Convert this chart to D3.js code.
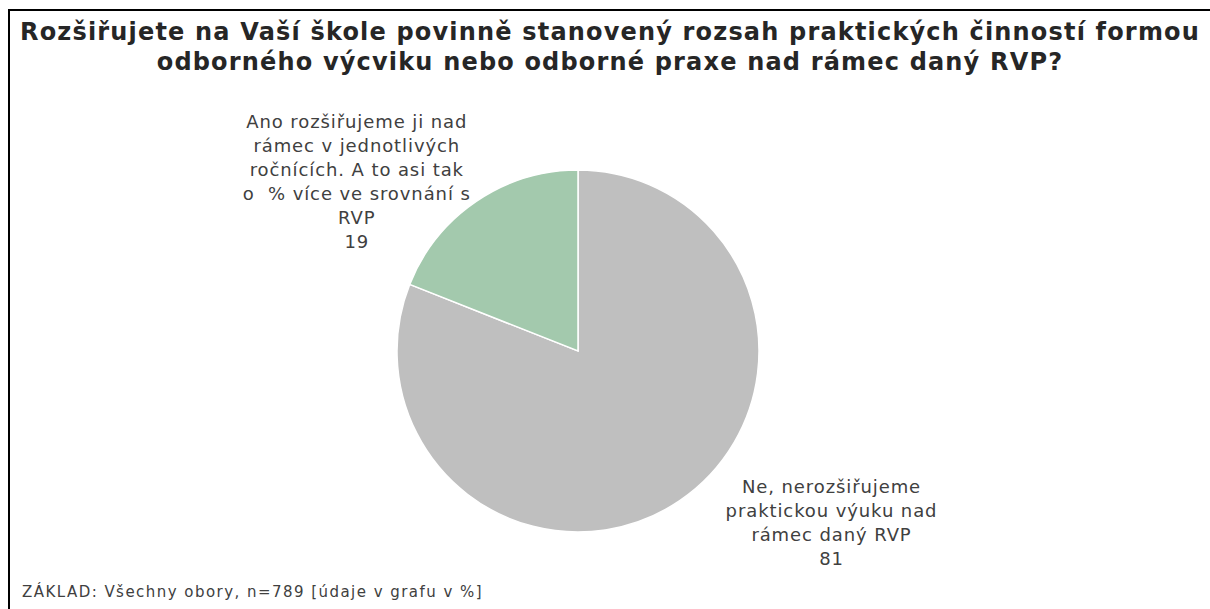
<!DOCTYPE html>
<html>
<head>
<meta charset="utf-8">
<script src="https://cdnjs.cloudflare.com/ajax/libs/d3/7.8.5/d3.min.js"></script>
<style>
  body { margin: 0; background: #fff; }
  svg { display: block; }
  .title { font-family: "DejaVu Sans", Verdana, sans-serif; font-weight: bold; font-size: 24px; fill: #262626; }
  .label { font-family: "DejaVu Sans", Verdana, sans-serif; font-size: 18px; fill: #404040; white-space: pre; }
  .note { font-family: "DejaVu Sans", Verdana, sans-serif; font-size: 15px; fill: #404040; }
</style>
</head>
<body>
<svg id="chart" width="1210" height="609"></svg>
<script>
const titleLines = [
  'Rozšiřujete na Vaší škole povinně stanovený rozsah praktických činností formou',
  'odborného výcviku nebo odborné praxe nad rámec daný RVP?'
];
const categories = [
  'Ne, nerozšiřujeme praktickou výuku nad rámec daný RVP',
  'Ano rozšiřujeme ji nad rámec v jednotlivých ročnících. A to asi tak o  % více ve srovnání s RVP'
];
// label text broken into lines the way the chart shows them
const labelLines = [
  ['Ne, nerozšiřujeme', 'praktickou výuku nad', 'rámec daný RVP'],
  ['Ano rozšiřujeme ji nad', 'rámec v jednotlivých', 'ročnících. A to asi tak', 'o  % více ve srovnání s', 'RVP']
];
const values = [81, 19];
const colors = ['#bfbfbf', '#a3c9ad'];
const note = 'ZÁKLAD: Všechny obory, n=789 [údaje v grafu v %]';

const width = 1210, height = 609;
const cx = 578, cy = 351, radius = 181;
const lineHeight = 24;
// label placement relative to slice middle: radius factor, angle shift (rad)
const labelPlace = [
  {k: 1.69, shift: -0.38},
  {k: 1.54, shift: -0.32}
];

const svg = d3.select('#chart');

// Verdana runs wider than DejaVu, so stretch letter spacing to the
// width a reference line takes in the original
const fitSpacing = (sel, sample, target) => {
  const probe = svg.append('text').attr('class', sel).text(sample);
  const w = probe.node().getComputedTextLength();
  probe.remove();
  return (target - w) / sample.length;
};
const titleSpacing = fitSpacing('title', titleLines[0], 1180);
const labelSpacing = fitSpacing('label', labelLines[1][0], 221);
const noteSpacing = fitSpacing('note', note, 461);

// outer frame (runs past right and bottom edge)
svg.append('rect')
  .attr('x', 9)
  .attr('y', 10)
  .attr('width', width)
  .attr('height', height)
  .attr('fill', 'none')
  .attr('stroke', '#000')
  .attr('stroke-width', 2);

svg.append('text')
  .attr('class', 'title')
  .attr('text-anchor', 'middle')
  .style('letter-spacing', titleSpacing + 'px')
  .selectAll('tspan')
  .data(titleLines)
  .join('tspan')
    .attr('x', 610)
    .attr('y', (d, i) => 40 + i * 30)
    .text(d => d);

const pie = d3.pie().sort(null).value(d => d.value);
const arc = d3.arc().innerRadius(0).outerRadius(radius);
const slices = pie(values.map((v, i) => ({value: v, i: i})));

const g = svg.append('g')
  .attr('transform', `translate(${cx},${cy})`);

g.selectAll('path')
  .data(slices)
  .join('path')
    .attr('d', arc)
    .attr('fill', d => colors[d.data.i])
    .attr('stroke', '#fff')
    .attr('stroke-width', 1.5);

const labels = g.selectAll('text.label')
  .data(slices)
  .join('text')
    .attr('class', 'label')
    .attr('text-anchor', 'middle')
    .attr('dominant-baseline', 'central')
    .style('letter-spacing', labelSpacing + 'px');

labels.each(function(d) {
  const p = labelPlace[d.data.i];
  const a = (d.startAngle + d.endAngle) / 2 + p.shift;
  const x = Math.sin(a) * radius * p.k;
  const y = -Math.cos(a) * radius * p.k;
  const lines = labelLines[d.data.i].concat([String(d.data.value)]);
  const y0 = y - (lines.length - 1) * lineHeight / 2;
  d3.select(this).selectAll('tspan')
    .data(lines)
    .join('tspan')
      .attr('x', x)
      .attr('y', (t, j) => y0 + j * lineHeight)
      .text(t => t);
});

svg.append('text')
  .attr('class', 'note')
  .attr('x', 22)
  .attr('y', 597)
  .style('letter-spacing', noteSpacing + 'px')
  .text(note);
</script>
</body>
</html>
